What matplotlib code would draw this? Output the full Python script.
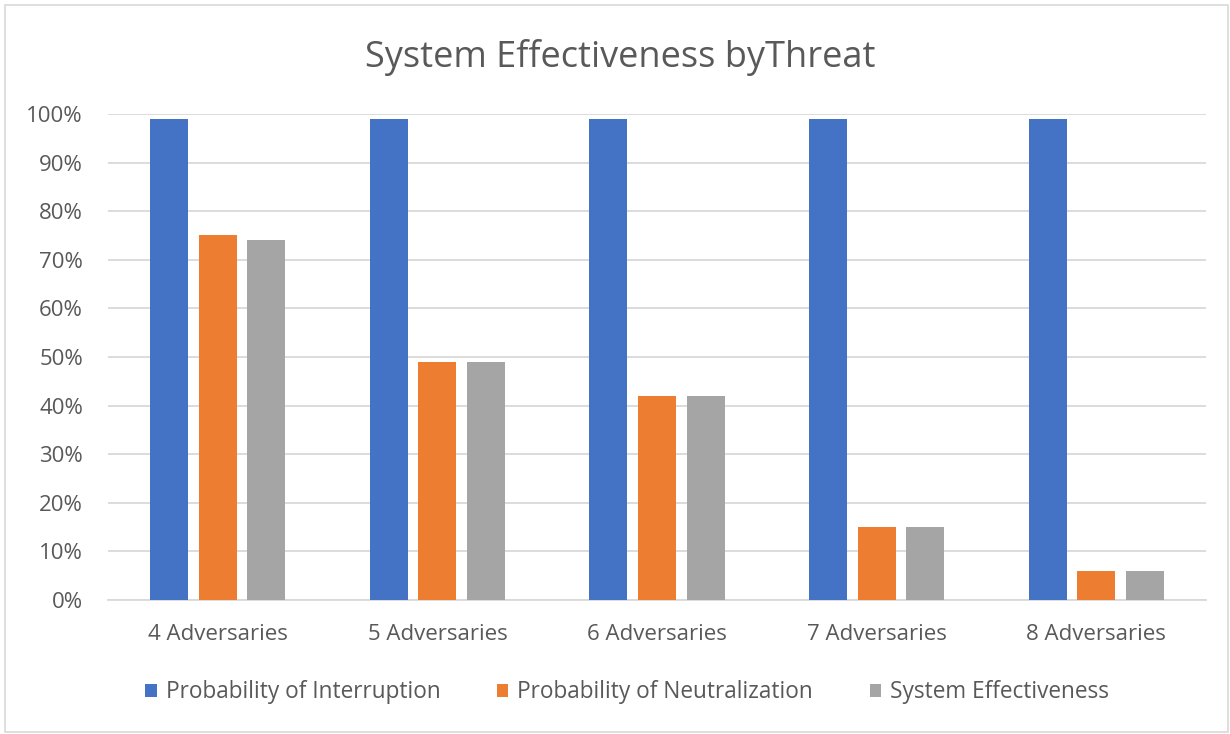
import matplotlib
matplotlib.use("Agg")
import matplotlib.pyplot as plt
import numpy as np
from matplotlib.patches import Rectangle

categories = ["4 Adversaries", "5 Adversaries", "6 Adversaries", "7 Adversaries", "8 Adversaries"]
series_names = ["Probability of Interruption", "Probability of Neutralization", "System Effectiveness"]
interruption = [99, 99, 99, 99, 99]
neutralization = [75, 49, 42, 15, 6]
effectiveness = [74, 49, 42, 15, 6]
y_ticks = [0, 10, 20, 30, 40, 50, 60, 70, 80, 90, 100]
y_tick_labels = [f"{v}%" for v in y_ticks]

colors = ["#4472C4", "#ED7D31", "#A5A5A5"]
text_color = "#595959"

plt.rcParams["font.family"] = ["Open Sans", "DejaVu Sans"]

fig = plt.figure(figsize=(12.3, 7.34), dpi=100)
fig.patch.set_facecolor("white")
# chart frame
fig.add_artist(Rectangle((0.004, 0.003), 0.994, 0.99, transform=fig.transFigure,
                         fill=False, edgecolor="#D9D9D9", linewidth=1.2))

ax = fig.add_axes([0.0878, 0.1826, 0.8927, 0.6621])
x = np.arange(len(categories))
width = 0.173
step = 0.221
for i, (vals, name) in enumerate(zip([interruption, neutralization, effectiveness], series_names)):
    ax.bar(x + (i - 1) * step, vals, width, color=colors[i], label=name, zorder=3)

ax.set_xlim(-0.5, len(categories) - 0.5)
ax.set_ylim(0, 100)
ax.set_yticks(y_ticks)
ax.set_yticklabels(y_tick_labels)
ax.set_xticks(x)
ax.set_xticklabels(categories)
ax.grid(axis="y", color="#D9D9D9", linewidth=1.3, zorder=0)
for s in ["top", "right", "left"]:
    ax.spines[s].set_visible(False)
ax.spines["bottom"].set_color("#D9D9D9")
ax.spines["bottom"].set_linewidth(1.3)
ax.tick_params(axis="both", length=0, labelsize=16, colors=text_color)
ax.tick_params(axis="x", pad=17)
ax.tick_params(axis="y", pad=18)

fig.text(0.504, 0.922, "System Effectiveness byThreat", ha="center", va="center",
         fontsize=26, color=text_color)

leg = fig.legend(loc="center", bbox_to_anchor=(0.51, 0.057), ncol=3, frameon=False,
                 fontsize=16.3, handlelength=0.5, handleheight=0.5, columnspacing=2.5,
                 handletextpad=0.4)
for t in leg.get_texts():
    t.set_color(text_color)

fig.savefig("out.png", dpi=100, facecolor="white")
